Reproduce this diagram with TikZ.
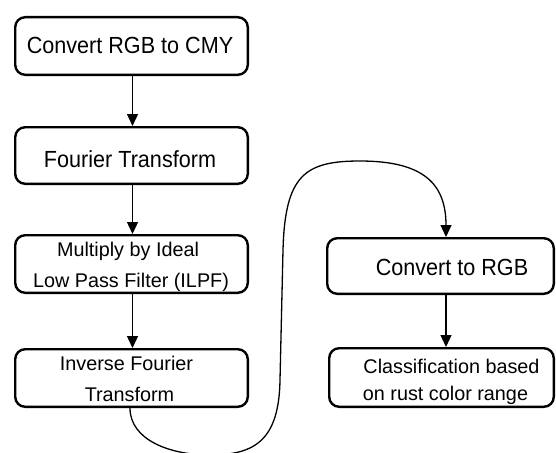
\documentclass[tikz,border=0pt]{standalone}
\usepackage{fontspec}
\setmainfont{Liberation Sans}
\usetikzlibrary{arrows.meta}
\newcommand{\tallbox}[1]{\scalebox{1}[1.08]{#1}}
\begin{document}
\begin{tikzpicture}[x=1pt,y=-1pt,
  box/.style={draw=black, line width=2.4pt, rounded corners=10pt, inner sep=0pt},
  big/.style={font=\fontsize{21.6}{26}\selectfont, inner sep=0pt, anchor=base},
  small/.style={font=\fontsize{19.8}{24}\selectfont, inner sep=0pt, anchor=base},
  conn/.style={line width=1.3pt, -{Triangle[width=11pt,length=12pt]}}]
\useasboundingbox (0,0) rectangle (556,452);
% left column boxes
\node[box, minimum width=232.6pt, minimum height=57.6pt] (b1) at (131.5,46) {};
\node[box, minimum width=232.6pt, minimum height=56.6pt] (b2) at (131.5,155.5) {};
\node[box, minimum width=232.6pt, minimum height=57.6pt] (b3) at (131.5,264) {};
\node[box, minimum width=232.6pt, minimum height=57.6pt] (b4) at (131.5,378) {};
% right column boxes
\node[box, minimum width=226.6pt, minimum height=55.6pt] (b5) at (440.5,266) {};
\node[box, minimum width=224.6pt, minimum height=58.6pt] (b6) at (441.5,377.5) {};
% texts
\node[big] (t1) at (130,53.5) {\tallbox{Convert RGB to CMY}};
\node[big] (t2) at (130,167) {\tallbox{Fourier Transform}};
\node[small] (t3a) at (128,256.5) {Multiply by Ideal};
\node[small] (t3b) at (131,287.5) {Low Pass Filter (ILPF)};
\node[small] (t4a) at (126.5,370) {Inverse Fourier};
\node[small] (t4b) at (129.5,401) {Transform};
\node[big] (t5) at (452,275) {\tallbox{Convert to RGB}};
\node[small] (t6a) at (451.5,373) {Classification based};
\node[small] (t6b) at (445.5,400) {on rust color range};
% connectors
\draw[conn] (b1.south -| 132.5,0) -- (b2.north -| 132.5,0);
\draw[conn] (b2.south -| 132.5,0) -- (b3.north -| 132.5,0);
\draw[conn] (b3.south -| 132.5,0) -- (b4.north -| 132.5,0);
\draw[conn] (b5.south -| 446,0) -- (b6.north -| 446,0);
\coordinate (c1) at (210,455);
\coordinate (c2) at (280,380);
\coordinate (c3) at (283,250);
\coordinate (c4) at (360,161);
\draw[conn] (b4.south -| 130,0) .. controls (130,440) and (170,455) .. (c1)
  .. controls (255,455) and (279,440) .. (c2) -- (c3)
  .. controls (285,175) and (305,161) .. (c4)
  .. controls (425,161) and (446,185) .. (b5.north -| 446,0);
\end{tikzpicture}
\end{document}
